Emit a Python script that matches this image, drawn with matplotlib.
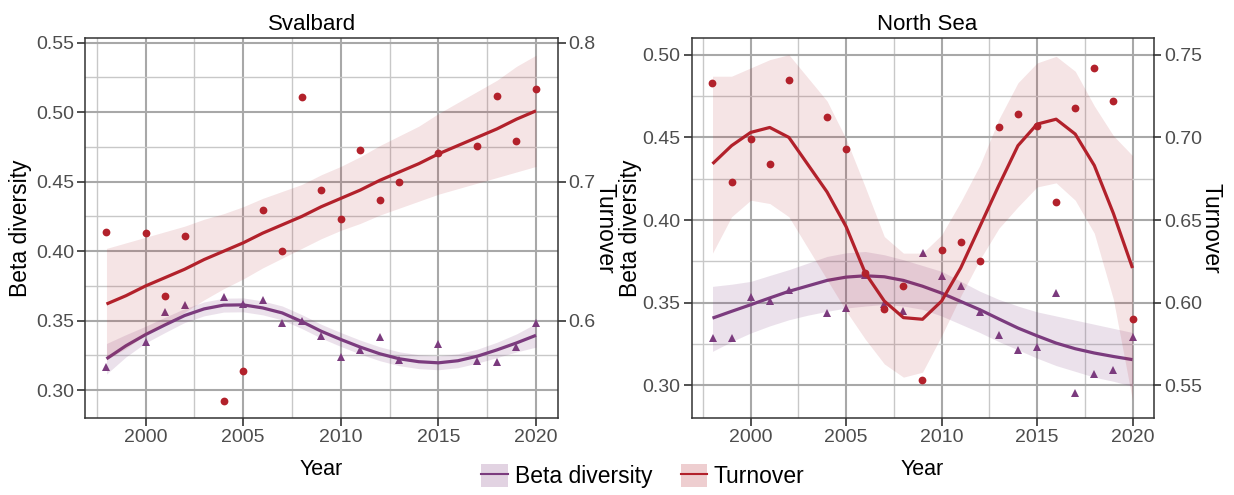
import matplotlib
matplotlib.use("Agg")
import matplotlib.pyplot as plt
from matplotlib.patches import Patch
from matplotlib.lines import Line2D
from matplotlib.ticker import FormatStrFormatter

plt.rcParams['font.family'] = ['Liberation Sans', 'DejaVu Sans']

# ---------------- data ----------------
# Svalbard
sv_years = [1998, 2000, 2001, 2002, 2004, 2005, 2006, 2007, 2008, 2009,
            2010, 2011, 2012, 2013, 2015, 2017, 2018, 2019, 2020]
sv_beta = [0.317, 0.335, 0.356, 0.361, 0.367, 0.362, 0.365, 0.348, 0.350, 0.339,
           0.324, 0.329, 0.338, 0.322, 0.333, 0.321, 0.320, 0.331, 0.348]
sv_turn = [0.664, 0.663, 0.618, 0.661, 0.542, 0.564, 0.680, 0.650, 0.761, 0.694,
           0.673, 0.723, 0.687, 0.700, 0.721, 0.726, 0.762, 0.729, 0.767]

fit_years = [1998, 1999, 2000, 2001, 2002, 2003, 2004, 2005, 2006, 2007, 2008, 2009,
             2010, 2011, 2012, 2013, 2014, 2015, 2016, 2017, 2018, 2019, 2020]
sv_beta_fit = [0.3226, 0.3320, 0.3400, 0.3470, 0.3537, 0.3585, 0.3612, 0.3614, 0.3592,
               0.3556, 0.3494, 0.3424, 0.3365, 0.3310, 0.3262, 0.3226, 0.3205, 0.3197,
               0.3212, 0.3245, 0.3290, 0.3340, 0.3395]
sv_beta_lo = [0.3116, 0.3240, 0.3340, 0.3415, 0.3487, 0.3535, 0.3562, 0.3564, 0.3542,
              0.3506, 0.3444, 0.3374, 0.3315, 0.3260, 0.3212, 0.3176, 0.3155, 0.3147,
              0.3162, 0.3195, 0.3235, 0.3275, 0.3310]
sv_beta_hi = [0.3336, 0.3400, 0.3460, 0.3525, 0.3587, 0.3635, 0.3662, 0.3664, 0.3642,
              0.3606, 0.3544, 0.3474, 0.3415, 0.3360, 0.3312, 0.3276, 0.3255, 0.3247,
              0.3262, 0.3295, 0.3345, 0.3405, 0.3480]
sv_turn_fit = [0.612, 0.618, 0.625, 0.631, 0.637, 0.644, 0.650, 0.656, 0.663, 0.669,
               0.675, 0.682, 0.688, 0.694, 0.701, 0.707, 0.713, 0.720, 0.726, 0.732,
               0.738, 0.745, 0.751]
sv_turn_lo = [0.572, 0.580, 0.590, 0.598, 0.606, 0.615, 0.623, 0.630, 0.638, 0.645,
              0.652, 0.659, 0.665, 0.670, 0.676, 0.681, 0.686, 0.691, 0.695, 0.699,
              0.703, 0.707, 0.711]
sv_turn_hi = [0.652, 0.656, 0.660, 0.664, 0.668, 0.673, 0.677, 0.682, 0.688, 0.693,
              0.698, 0.705, 0.711, 0.718, 0.726, 0.733, 0.740, 0.749, 0.757, 0.765,
              0.773, 0.783, 0.791]

# North Sea
ns_years = [1998, 1999, 2000, 2001, 2002, 2004, 2005, 2006, 2007, 2008, 2009,
            2010, 2011, 2012, 2013, 2014, 2015, 2016, 2017, 2018, 2019, 2020]
ns_beta = [0.3289, 0.3285, 0.3537, 0.3509, 0.3575, 0.3438, 0.3470, 0.3670, 0.3493,
           0.3448, 0.3801, 0.3664, 0.3599, 0.3446, 0.3305, 0.3214, 0.3234, 0.3557,
           0.2954, 0.3071, 0.3093, 0.3293]
ns_turn = [0.733, 0.673, 0.699, 0.684, 0.735, 0.7125, 0.693, 0.618, 0.596, 0.610,
           0.553, 0.632, 0.637, 0.625, 0.706, 0.714, 0.707, 0.661, 0.7175, 0.742,
           0.722, 0.590]

ns_beta_fit = [0.3407, 0.3448, 0.3488, 0.3529, 0.3569, 0.3602, 0.3635, 0.3655, 0.3663,
               0.3657, 0.3635, 0.3600, 0.3558, 0.3508, 0.3458, 0.3402, 0.3347, 0.3300,
               0.3256, 0.3222, 0.3196, 0.3175, 0.3156]
ns_beta_lo = [0.3206, 0.3265, 0.3317, 0.3360, 0.3397, 0.3425, 0.3448, 0.3468, 0.3480,
              0.3490, 0.3480, 0.3460, 0.3420, 0.3370, 0.3320, 0.3265, 0.3215, 0.3165,
              0.3120, 0.3085, 0.3050, 0.3025, 0.2995]
ns_beta_hi = [0.3599, 0.3612, 0.3629, 0.3665, 0.3700, 0.3740, 0.3780, 0.3802, 0.3810,
              0.3790, 0.3760, 0.3725, 0.3690, 0.3630, 0.3570, 0.3520, 0.3480, 0.3445,
              0.3420, 0.3395, 0.3370, 0.3345, 0.3320]
ns_turn_fit = [0.684, 0.695, 0.703, 0.706, 0.700, 0.667, 0.646, 0.618, 0.601, 0.591,
               0.590, 0.601, 0.621, 0.646, 0.671, 0.695, 0.708, 0.711, 0.702, 0.683,
               0.654, 0.621]
ns_turn_lo = [0.630, 0.652, 0.662, 0.660, 0.652, 0.614, 0.595, 0.578, 0.563, 0.555,
              0.558, 0.580, 0.604, 0.626, 0.645, 0.658, 0.670, 0.6725, 0.662, 0.642,
              0.602, 0.541]
ns_turn_hi = [0.737, 0.737, 0.742, 0.747, 0.750, 0.722, 0.699, 0.670, 0.640, 0.630,
              0.630, 0.641, 0.661, 0.683, 0.711, 0.733, 0.745, 0.749, 0.740, 0.719,
              0.701, 0.689]

x_major = [2000, 2005, 2010, 2015, 2020]
x_minor = [1997.5, 2002.5, 2007.5, 2012.5, 2017.5]

# ---------------- style ----------------
RED = '#B2212B'
PURPLE = '#7B3B7E'
TICK_COL = '#4D4D4D'
W, H = 1234, 495

fig = plt.figure(figsize=(W / 100, H / 100), dpi=100)


def panel(rect, title, title_x, ylab_x, tlab_x,
          b_years, b_vals, t_years, t_vals,
          bf_years, bf, bf_lo, bf_hi, tf_years, tf, tf_lo, tf_hi,
          ylim, yticks, yminor, tticks, tfmt):
    ax = fig.add_axes(rect)
    ax.set_xlim(1996.9, 2021.1)
    ax.set_ylim(*ylim)
    ax.set_xticks(x_major)
    ax.set_xticks(x_minor, minor=True)
    ax.set_yticks(yticks)
    ax.set_yticks(yminor, minor=True)
    ax.yaxis.set_major_formatter(FormatStrFormatter('%.2f'))
    ax.grid(which='major', color='#A8A8A8', lw=1.5)
    ax.grid(which='minor', color='#C8C8C8', lw=1.0)
    ax.set_axisbelow(True)
    ax.tick_params(which='major', direction='out', length=5.5, width=1.2,
                   color='#333333', labelsize=14, labelcolor=TICK_COL, pad=2.5)
    ax.tick_params(which='minor', length=0)
    for s in ax.spines.values():
        s.set_color('#333333')
        s.set_linewidth(1.1)

    # beta diversity
    ax.fill_between(bf_years, bf_lo, bf_hi, color=PURPLE, alpha=0.15, lw=0)
    ax.plot(b_years, b_vals, '^', color=PURPLE, ms=6.2, mew=0)
    ax.plot(bf_years, bf, color=PURPLE, lw=2.3, solid_capstyle='butt')

    # turnover on the secondary scale (turnover = beta + 0.25)
    axt = ax.twinx()
    axt.set_ylim(ylim[0] + 0.25, ylim[1] + 0.25)
    axt.set_yticks(tticks)
    axt.yaxis.set_major_formatter(FormatStrFormatter(tfmt))
    axt.tick_params(direction='out', length=5.5, width=1.2, color='#333333',
                    labelsize=14, labelcolor=TICK_COL, pad=2.5)
    for s in axt.spines.values():
        s.set_visible(False)
    axt.fill_between(tf_years, tf_lo, tf_hi, color=RED, alpha=0.12, lw=0)
    axt.plot(t_years, t_vals, 'o', color=RED, ms=5.6, mew=0)
    axt.plot(tf_years, tf, color=RED, lw=2.3, solid_capstyle='butt')

    cx = rect[0] + rect[2] / 2
    fig.text(title_x / W, 1 - 30 / H, title, ha='center', va='baseline', fontsize=16)
    fig.text(cx, 1 - 475 / H, 'Year', ha='center', va='baseline', fontsize=15.5)
    fig.text(ylab_x / W, 1 - 228 / H, 'Beta diversity', rotation=90,
             ha='center', va='center', fontsize=16.5)
    fig.text(tlab_x / W, 1 - 228 / H, 'Turnover', rotation=-90,
             ha='center', va='center', fontsize=16.5)
    return ax


panel([85 / W, 1 - 418 / H, 472.5 / W, 380 / H], 'Svalbard', 312, 21, 605,
      sv_years, sv_beta, sv_years, sv_turn,
      fit_years, sv_beta_fit, sv_beta_lo, sv_beta_hi,
      fit_years, sv_turn_fit, sv_turn_lo, sv_turn_hi,
      (0.2800, 0.5534), [0.30, 0.35, 0.40, 0.45, 0.50, 0.55],
      [0.325, 0.375, 0.425, 0.475, 0.525], [0.6, 0.7, 0.8], '%.1f')

panel([691.5 / W, 1 - 418 / H, 462 / W, 380 / H], 'North Sea', 927, 631, 1211,
      ns_years, ns_beta, ns_years, ns_turn,
      fit_years, ns_beta_fit, ns_beta_lo, ns_beta_hi,
      ns_years, ns_turn_fit, ns_turn_lo, ns_turn_hi,
      (0.2803, 0.5101), [0.30, 0.35, 0.40, 0.45, 0.50],
      [0.325, 0.375, 0.425, 0.475], [0.55, 0.60, 0.65, 0.70, 0.75], '%.2f')

# shared legend
handles = [
    (Patch(facecolor=PURPLE, alpha=0.22, lw=0), Line2D([], [], color=PURPLE, lw=1.5)),
    (Patch(facecolor=RED, alpha=0.22, lw=0), Line2D([], [], color=RED, lw=1.5)),
]
fig.legend(handles, ['Beta diversity', 'Turnover'], ncol=2, frameon=False,
           loc='center', bbox_to_anchor=(643 / W, 1 - 476 / H), fontsize=16.5,
           handlelength=1.15, handleheight=1.15, handletextpad=0.3,
           columnspacing=1.25, borderpad=0, borderaxespad=0)

fig.savefig('out.png', dpi=100, facecolor='white')
